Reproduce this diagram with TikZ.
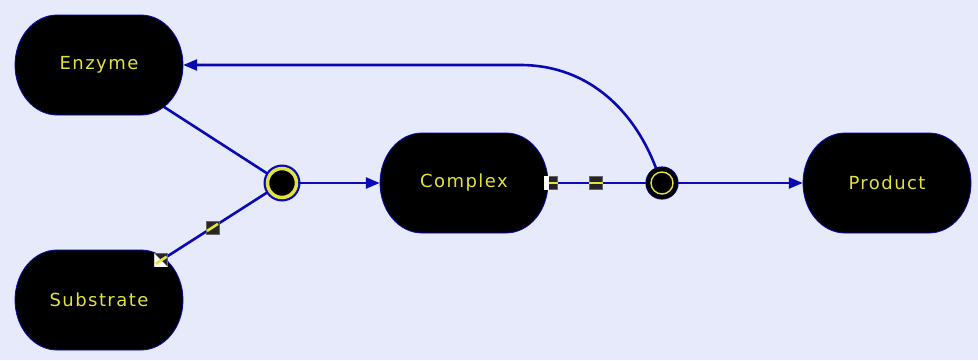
\documentclass[tikz,border=0pt]{standalone}
\usepackage{fontspec}
\setmainfont{DejaVu Sans}
\newfontfamily\labelfont[LetterSpace=8]{DejaVu Sans}
\usetikzlibrary{arrows.meta,backgrounds,calc}
\definecolor{bgc}{RGB}{230,234,251}
\definecolor{edgeblue}{RGB}{10,10,180}
\definecolor{txtyellow}{RGB}{226,226,64}
% stadium outline with elliptical ends around a species node
\newcommand\speciesoutline[1]{%
  \filldraw[fill=black,draw=edgeblue,line width=0.8pt]
    ($(#1.center)+(-42,50)$) -- ++(84,0)
    arc[start angle=90,end angle=-90,x radius=42,y radius=50]
    -- ++(-84,0)
    arc[start angle=270,end angle=90,x radius=42,y radius=50] -- cycle;}
\begin{document}
\begin{tikzpicture}[x=1pt,y=1pt,
  species/.style={rectangle,minimum width=168pt,minimum height=100pt,inner sep=0pt,
    text=txtyellow,font=\labelfont\fontsize{18}{20}\selectfont},
  flow/.style={draw=edgeblue,line width=2.6pt},
  tip/.style={-{Triangle[length=14pt,width=11pt]}},
  markbox/.style={rectangle,minimum size=13pt,inner sep=0pt,fill=black!85,draw=black!60,line width=0.5pt},
  markline/.style={draw=txtyellow,line width=2.6pt}]
\useasboundingbox (0,0) rectangle (978,360);
% species
\node[species] (enz) at (99,295) {Enzyme};
\node[species] (sub) at (99,60) {Substrate};
\node[species] (cpx) at (464,177) {Complex};
\node[species] (prd) at (887,177) {Product};
% reaction junctions
\node[circle,minimum size=29pt,inner sep=0pt,fill=black,draw=txtyellow,line width=3.5pt] (j1) at (282,177) {};
\node[circle,minimum size=32pt,inner sep=0pt,fill=black] (j2) at (662,177) {};
\draw[txtyellow,line width=1.4pt] (j2.center) circle (11pt);
\coordinate (bend) at (520,295);
\begin{scope}[on background layer]
  \fill[bgc] (0,0) rectangle (978,360);
  \draw[flow] (enz.center) -- (j1);
  \draw[flow] (sub.center) -- (j1);
  \fill[edgeblue] (j1) circle (18.5pt);
  \draw[flow] (cpx.center) -- (j2);
  \fill[edgeblue] (j2) circle (16.6pt);
  \draw[flow,tip] (j2.112) .. controls (636,245) and (592,295) .. (bend) -- (enz.east);
  \speciesoutline{enz}
  \speciesoutline{sub}
  \speciesoutline{cpx}
  \speciesoutline{prd}
\end{scope}
\draw[flow,tip] (j1) -- (cpx);
\draw[flow,tip] (j2) -- (prd);
% edge markers on the substrate link
\coordinate (ms) at ($(sub)!0.34!(j1)$);
\coordinate (mm) at ($(sub)!0.62!(j1)$);
\node[markbox] (m1) at (mm) {};
\draw[markline] (m1.center) ++(33:6.5) -- ++(213:13);
\node[markbox] (m2) at (ms) {};
\fill[white] (m2.south west) -- (m2.south east) -- (m2.north west) -- cycle;
\draw[markline] (m2.center) ++(33:6.5) -- ++(213:13);
% edge markers on the complex link
\node[markbox] (m3) at ($(cpx.east)+(3,0)$) {};
\fill[white] (m3.south west) rectangle ($(m3.north west)+(5,0)$);
\draw[markline] ($(m3.west)+(5,0)$) -- (m3.east);
\node[markbox] (m4) at ($(cpx.east)!0.42!(j2)$) {};
\draw[markline] (m4.west) -- (m4.east);
\end{tikzpicture}
\end{document}
